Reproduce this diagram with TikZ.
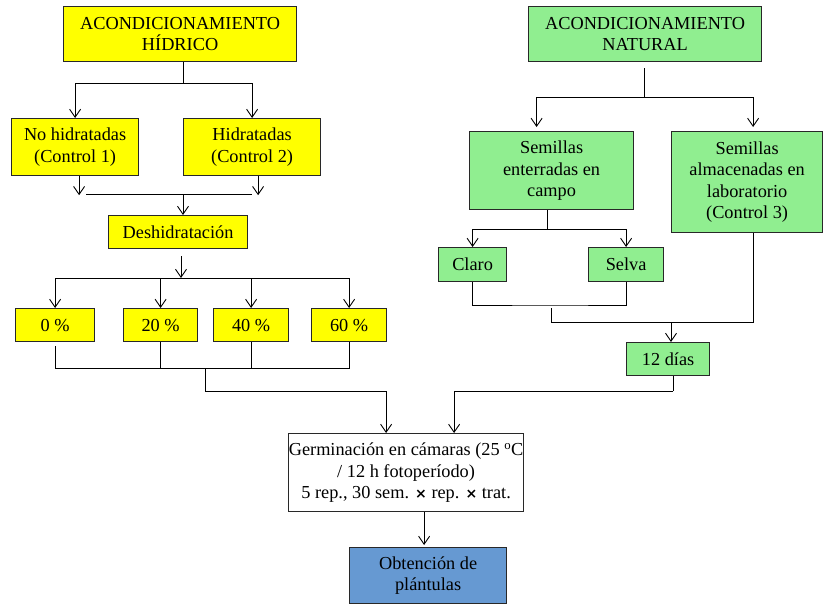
\documentclass[tikz,border=0pt]{standalone}
\usepackage{fontspec}
\setmainfont{Liberation Serif}
\newfontfamily\symfont{DejaVu Sans}
\usetikzlibrary{arrows.meta,calc}
\definecolor{yel}{RGB}{255,255,0}
\definecolor{grn}{RGB}{144,238,144}
\definecolor{blu}{RGB}{102,153,210}
\definecolor{edge}{RGB}{40,40,40}
\newcommand{\tms}{{\symfont\bfseries\fontsize{14}{14}\selectfont ×}}
\begin{document}
\begin{tikzpicture}[x=1pt,y=-1pt,
  box/.style={draw=edge,line width=1.2pt,rectangle,inner sep=0pt,anchor=north west,
    align=center,font=\fontsize{18.3}{21.5}\selectfont},
  arr/.style={-{Straight Barb[length=8pt,width=11pt]},line width=0.9pt},
  ln/.style={line width=0.9pt}]
\useasboundingbox (0,0) rectangle (824,605);

% water conditioning branch
\node[box,fill=yel,minimum width=233pt,minimum height=55pt] (hid) at (63,6) {ACONDICIONAMIENTO\\HÍDRICO};
\node[box,fill=yel,minimum width=127pt,minimum height=57pt] (nohid) at (11,118) {No hidratadas\\(Control 1)};
\node[box,fill=yel,minimum width=137pt,minimum height=57pt] (hidr) at (183,118) {Hidratadas\\(Control 2)};
\node[box,fill=yel,minimum width=139pt,minimum height=33pt] (desh) at (108,215) {Deshidratación};
\node[box,fill=yel,minimum width=79pt,minimum height=33pt] (p0) at (15,308) {0 \%};
\node[box,fill=yel,minimum width=74pt,minimum height=33pt] (p20) at (123,308) {20 \%};
\node[box,fill=yel,minimum width=75pt,minimum height=33pt] (p40) at (213,308) {40 \%};
\node[box,fill=yel,minimum width=75pt,minimum height=33pt] (p60) at (311,308) {60 \%};

% natural conditioning branch
\node[box,fill=grn,minimum width=233pt,minimum height=55pt] (nat) at (528,6) {ACONDICIONAMIENTO\\NATURAL};
\node[box,fill=grn,minimum width=164pt,minimum height=78pt] (ent) at (469,131) {Semillas\\enterradas en\\campo};
\node[box,fill=grn,minimum width=151pt,minimum height=101pt] (alm) at (671,131) {Semillas\\almacenadas en\\laboratorio\\(Control 3)};
\node[box,fill=grn,minimum width=68pt,minimum height=34pt] (claro) at (438,247) {Claro};
\node[box,fill=grn,minimum width=75pt,minimum height=34pt] (selva) at (588,247) {Selva};
\node[box,fill=grn,minimum width=83pt,minimum height=33pt] (dias) at (626,342) {12 días};

% germination and result
\node[box,fill=white,minimum width=235pt,minimum height=78pt] (germ) at (288,433)
  {Germinación en cámaras (25 \textsuperscript{o}C\\/ 12 h fotoperíodo)\\5 rep., 30 sem. \tms{} rep. \tms{} trat.};
\node[box,fill=blu,minimum width=157pt,minimum height=56pt] (obt) at (349,547) {Obtención de\\plántulas};

% junction points
\coordinate (a1) at (183,83);
\coordinate (a2) at (183,194);
\coordinate (b1) at (181,278);
\coordinate (c1) at (205,368);
\coordinate (c2) at (205,391);
\coordinate (n1) at (644,97);
\coordinate (e1) at (547,229);
\coordinate (cs) at (551,305);
\coordinate (r1) at (551,322);
\coordinate (r2) at (671,322);
\coordinate (d1) at (673,391);

% water branch connectors
\draw[ln] (hid.south -| a1) -- (a1);
\draw[arr] (a1) -| (nohid.north);
\draw[arr] (a1) -| (hidr.north);
\draw[arr] ([xshift=4pt]nohid.south) -- ++(0,19);
\draw[arr] ([xshift=6pt]hidr.south) -- ++(0,19);
\draw[ln] (86,194) -- (hidr.south |- a2);
\draw[arr] (a2) -- (desh.north -| a2);
\draw[arr] ([yshift=-7pt]desh.south -| b1) -- (b1);
\draw[arr] (b1) -| (p0.north);
\draw[arr] (b1) -| (p20.north);
\draw[arr] (b1) -| (p40.north);
\draw[arr] (b1) -| (p60.north);
\draw[ln] ([yshift=-4pt]p0.south) -- (p0.south |- c1) -- (p60.south |- c1) -- (p60.south);
\draw[ln] (p20.south) -- (p20.south |- c1);
\draw[ln] (p40.south) -- (p40.south |- c1);
\draw[ln] (c1) -- (c2);
\draw[arr] (c2) -| ([xshift=-20pt]germ.north);

% natural branch connectors
\draw[ln] ([yshift=-6pt]nat.south -| n1) -- (n1);
\draw[arr] (n1) -| ([xshift=-15pt,yshift=4pt]ent.north);
\draw[arr] (n1) -| ([xshift=6pt,yshift=4pt]alm.north);
\draw[ln] (ent.south -| e1) -- (e1);
\draw[arr] (e1) -| (claro.north);
\draw[arr] (e1) -| (selva.north);
\draw[ln] (claro.south) |- (cs) -| (selva.south);
\draw[ln] ([yshift=-3pt]cs) -- (r1) -| ([xshift=6pt]alm.south);
\draw[arr] (r2) -- (dias.north -| r2);
\draw[ln] (dias.south -| d1) -- (d1);
\draw[arr] (d1) -| ([xshift=48pt]germ.north);

% final step
\draw[arr] ([xshift=-4pt]germ.south -| obt.north) -- ([xshift=-4pt,yshift=2pt]obt.north);
\end{tikzpicture}
\end{document}
